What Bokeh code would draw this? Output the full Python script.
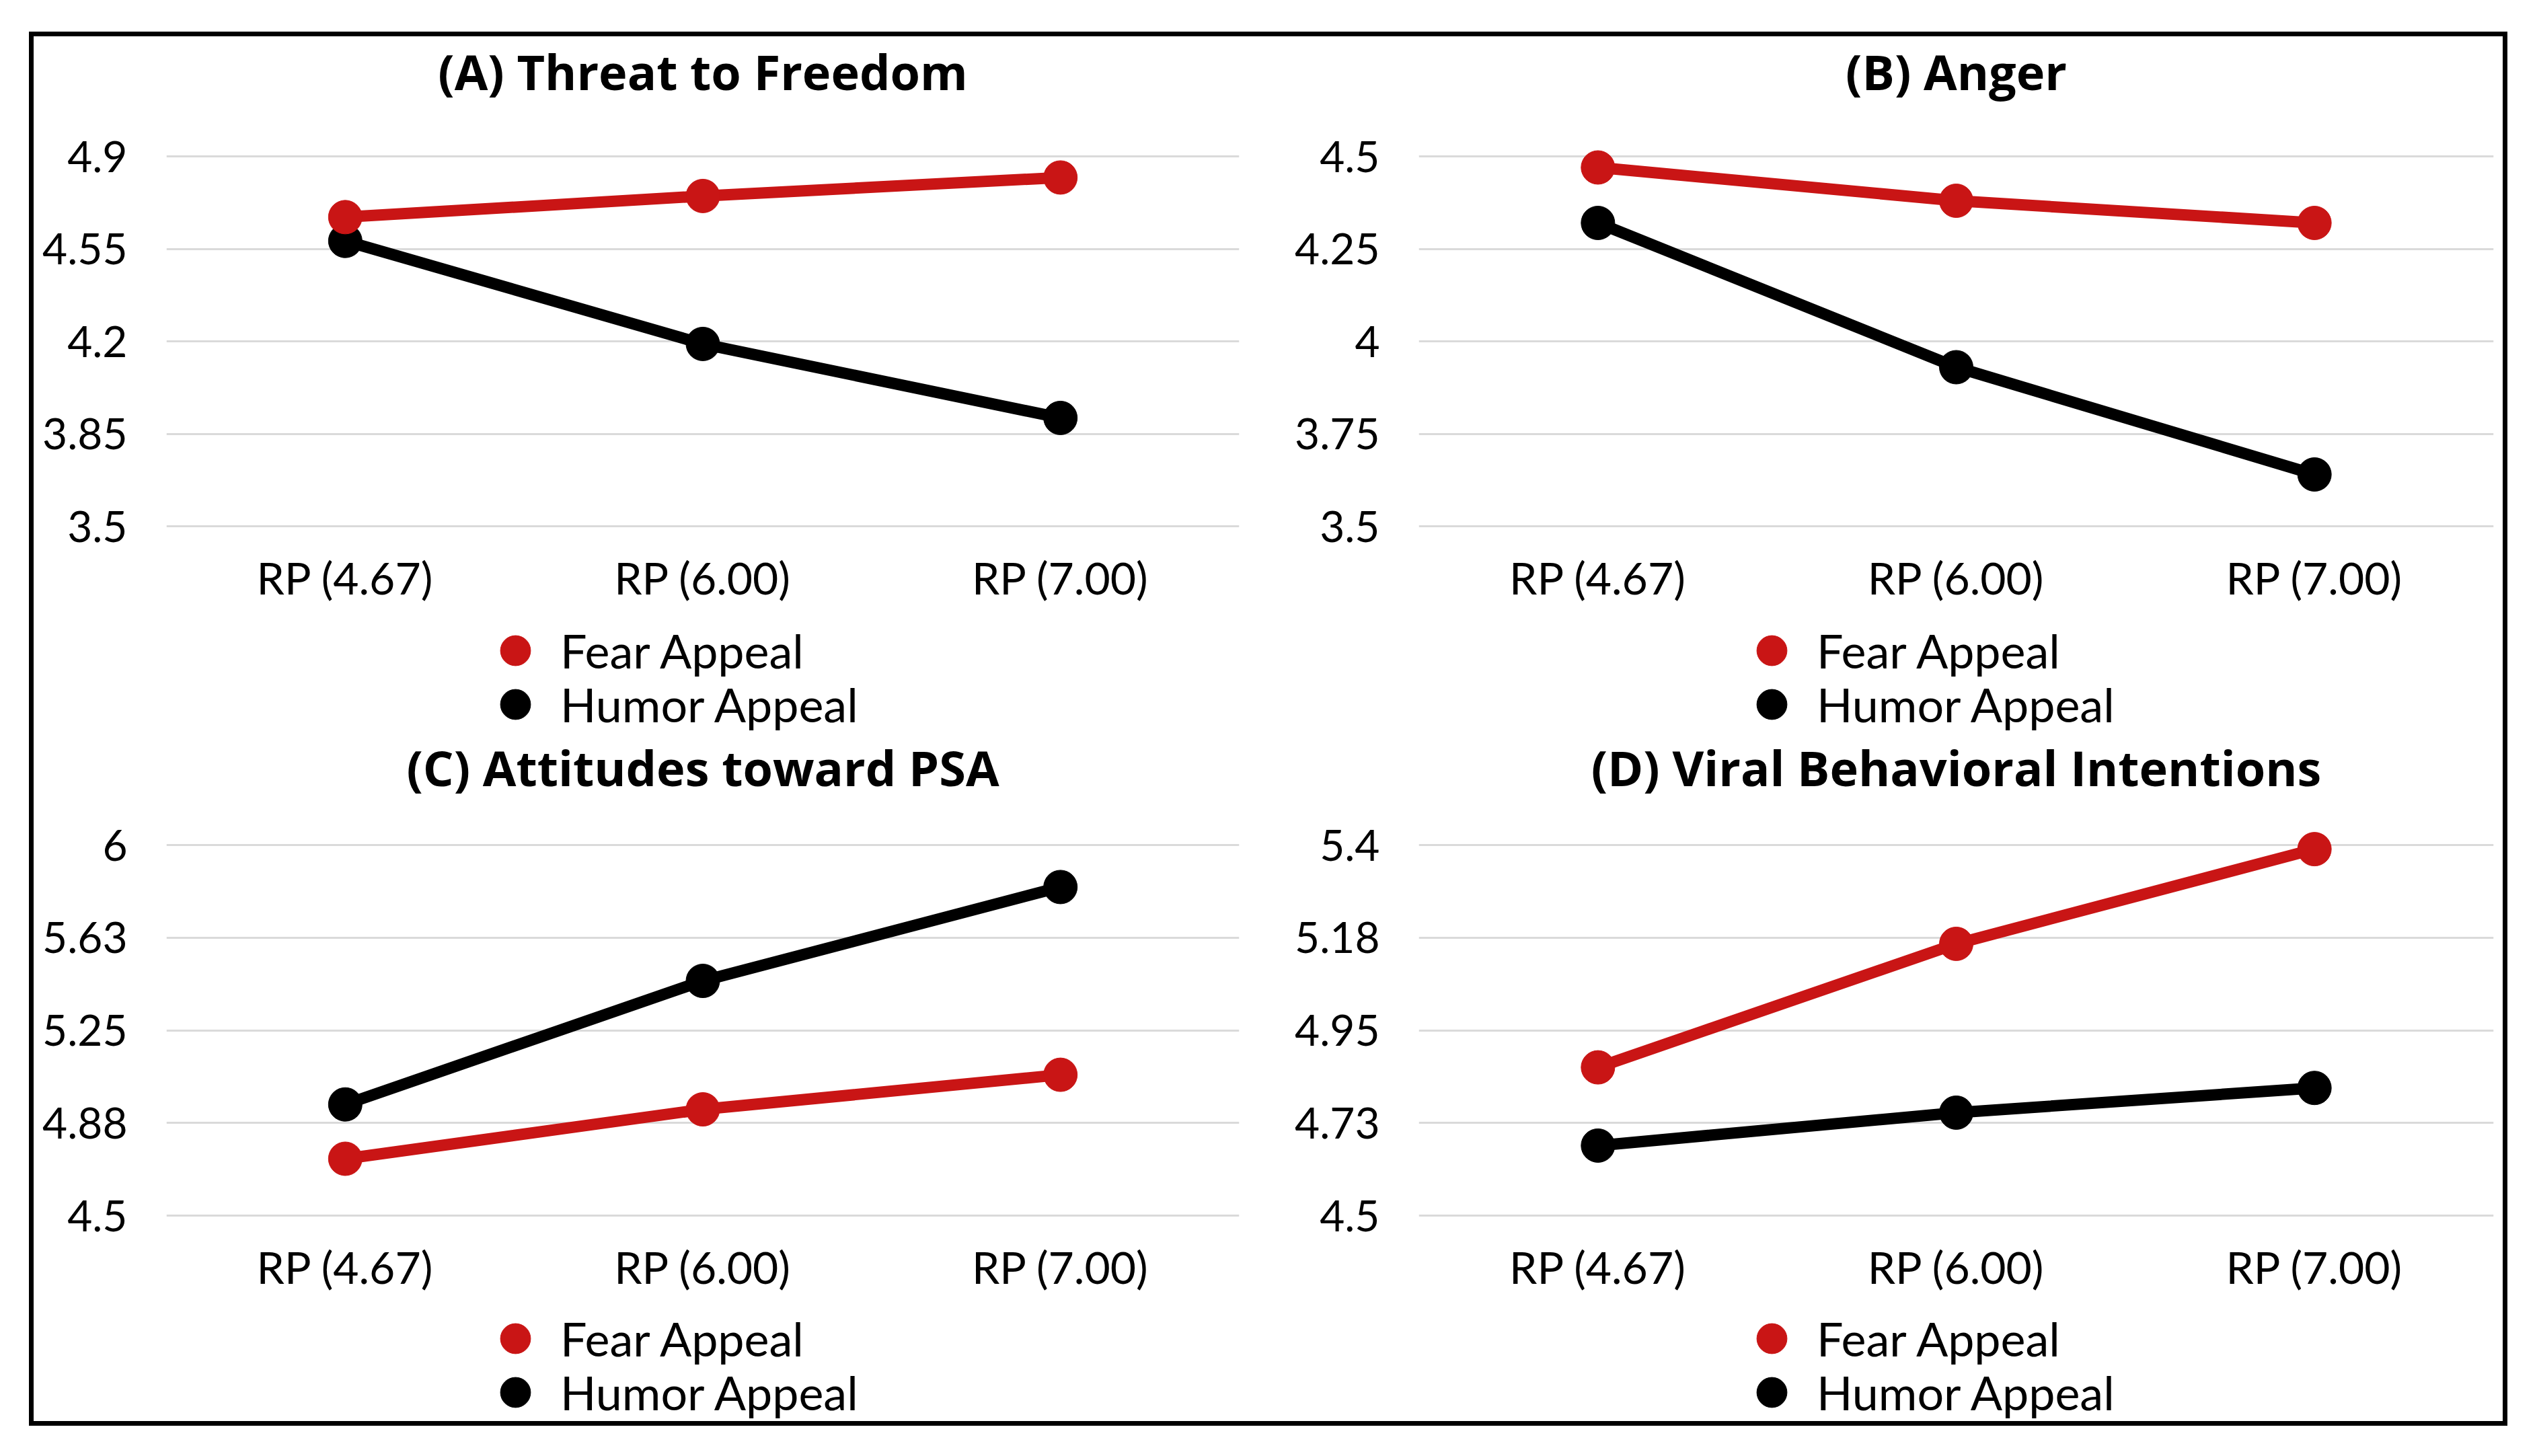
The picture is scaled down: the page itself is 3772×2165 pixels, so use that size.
from bokeh.plotting import figure
from bokeh.models import FactorRange, Range1d, FixedTicker, Label, Legend, LegendItem, Spacer
from bokeh.layouts import row, column
from bokeh.embed import file_html
from bokeh.resources import INLINE

# ---------------- data ----------------
categories = ["RP (4.67)", "RP (6.00)", "RP (7.00)"]
series_names = ["Fear Appeal", "Humor Appeal"]

threat_title = "(A) Threat to Freedom"
threat_fear = [4.67, 4.75, 4.82]
threat_humor = [4.58, 4.19, 3.91]
threat_ticks = [3.5, 3.85, 4.2, 4.55, 4.9]
threat_tick_labels = ["3.5", "3.85", "4.2", "4.55", "4.9"]

anger_title = "(B) Anger"
anger_fear = [4.47, 4.38, 4.32]
anger_humor = [4.32, 3.93, 3.64]
anger_ticks = [3.5, 3.75, 4.0, 4.25, 4.5]
anger_tick_labels = ["3.5", "3.75", "4", "4.25", "4.5"]

attitude_title = "(C) Attitudes toward PSA"
attitude_fear = [4.73, 4.93, 5.07]
attitude_humor = [4.95, 5.45, 5.83]
attitude_ticks = [4.5, 4.875, 5.25, 5.625, 6.0]
attitude_tick_labels = ["4.5", "4.88", "5.25", "5.63", "6"]

viral_title = "(D) Viral Behavioral Intentions"
viral_fear = [4.86, 5.16, 5.39]
viral_humor = [4.67, 4.75, 4.81]
viral_ticks = [4.5, 4.725, 4.95, 5.175, 5.4]
viral_tick_labels = ["4.5", "4.73", "4.95", "5.18", "5.4"]

# ---------------- style ----------------
FONT = "Lato"
TITLE_FONT = "Open Sans"
RED = "#c91515"
BLACK = "#000000"
GRID = "#dadada"

GLYPH = 112
ROW_STEP = 80


def make_panel(title, fear, humor, ticks, tick_labels, width, height,
               mb_left, mb_right, top_gap, grid_h, title_from_top,
               legend_x, legend_row1_from_top):
    bottom_gap = height - top_gap - grid_h
    k = grid_h / (ticks[-1] - ticks[0])          # pixels per data unit
    y_hi = ticks[-1] + top_gap / k
    y_lo = ticks[0] - bottom_gap / k
    p = figure(width=width, height=height,
               x_range=FactorRange(factors=categories, range_padding=0),
               y_range=Range1d(y_lo, y_hi),
               output_backend="svg", toolbar_location=None,
               min_border_left=mb_left, min_border_right=mb_right,
               min_border_top=0, min_border_bottom=0)
    p.outline_line_color = None
    p.background_fill_color = "white"
    p.border_fill_color = "white"
    p.xgrid.visible = False
    p.ygrid.ticker = FixedTicker(ticks=ticks)
    p.ygrid.grid_line_color = GRID
    p.ygrid.grid_line_width = 3

    for ax in (p.xaxis[0], p.yaxis[0]):
        ax.axis_line_color = None
        ax.major_tick_line_color = None
        ax.minor_tick_line_color = None
        ax.major_tick_in = 0
        ax.major_tick_out = 0
        ax.major_label_text_font = FONT
        ax.major_label_text_color = BLACK
    p.yaxis.major_label_text_font_size = "64px"
    p.xaxis.major_label_text_font_size = "66px"
    p.yaxis.ticker = FixedTicker(ticks=ticks)
    p.yaxis.major_label_overrides = dict(zip(ticks, tick_labels))
    p.yaxis.major_label_standoff = 58
    p.xaxis.major_label_standoff = 36
    p.xaxis[0].fixed_location = ticks[0]

    p.line(categories, humor, line_width=17, line_color=BLACK, line_join="round")
    rh = p.scatter(categories, humor, size=50, marker="circle",
                   fill_color=BLACK, line_color=BLACK)
    p.line(categories, fear, line_width=17, line_color=RED, line_join="round")
    rf = p.scatter(categories, fear, size=50, marker="circle",
                   fill_color=RED, line_color=RED)

    for i, (name, r) in enumerate(zip(series_names, [rf, rh])):
        center = legend_row1_from_top + i * ROW_STEP
        legend = Legend(items=[LegendItem(label=name, renderers=[r])],
                        location=(legend_x, height - (center + GLYPH / 2)),
                        orientation="vertical",
                        glyph_width=GLYPH, glyph_height=GLYPH,
                        padding=0, margin=0, label_standoff=11,
                        label_text_font=FONT, label_text_font_size="70px",
                        label_text_color=BLACK,
                        background_fill_alpha=0, border_line_alpha=0)
        p.add_layout(legend)

    frame_w = width - mb_left - mb_right
    p.add_layout(Label(x=frame_w / 2, y=height - title_from_top,
                       x_units="screen", y_units="screen",
                       text=title, text_align="center", text_baseline="middle",
                       text_font=TITLE_FONT, text_font_style="bold",
                       text_font_size="72px", text_color=BLACK))
    return p


def bar(w, h):
    return Spacer(width=w, height=h, styles={"background-color": "black"})


LW, RW = 1830, 1841
TH, BH = 1036, 1023

pA = make_panel(threat_title, threat_fear, threat_humor, threat_ticks, threat_tick_labels,
                LW, TH, 197, 38, 178, 550, 51, 463, 913)
pB = make_panel(anger_title, anger_fear, anger_humor, anger_ticks, anger_tick_labels,
                RW, TH, 229, 14, 178, 550, 51, 469, 913)
pC = make_panel(attitude_title, attitude_fear, attitude_humor, attitude_ticks, attitude_tick_labels,
                LW, BH, 197, 38, 166, 551, 50, 463, 900)
pD = make_panel(viral_title, viral_fear, viral_humor, viral_ticks, viral_tick_labels,
                RW, BH, 229, 14, 166, 551, 50, 469, 900)

grid = column(row(pA, pB), row(pC, pD))
B = 7
inner_w = LW + RW
inner_h = TH + BH
boxed = column(bar(inner_w + 2 * B, B),
               row(bar(B, inner_h), grid, bar(B, inner_h)),
               bar(inner_w + 2 * B, B))
page = column(Spacer(width=10, height=47), row(Spacer(width=43, height=10), boxed))

open("out.html", "w").write(file_html(page, INLINE))
